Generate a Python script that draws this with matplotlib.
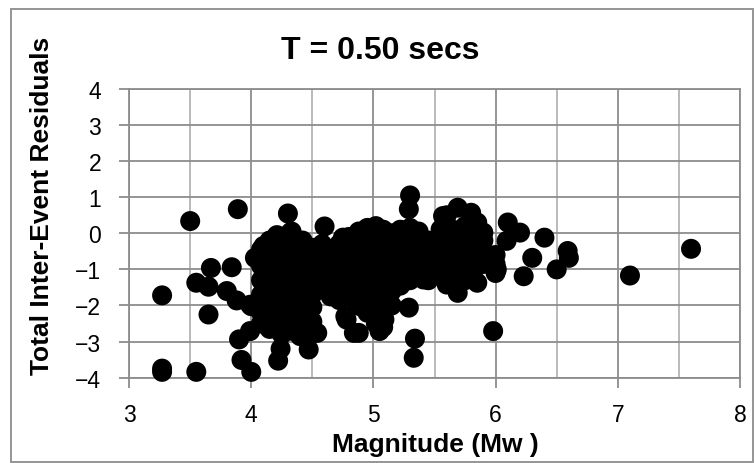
import matplotlib
matplotlib.use("Agg")
import matplotlib.pyplot as plt
from matplotlib.patches import Rectangle
from matplotlib.ticker import MultipleLocator

plt.rcParams['font.family'] = ['Liberation Sans', 'DejaVu Sans']

# event magnitude (Mw) and total inter-event residual, T = 0.50 s
mag = [
    3.27, 3.27, 3.27, 3.50, 3.55, 3.55, 3.65, 3.65, 3.67, 3.80, 3.84, 3.88,
    3.89, 3.90, 3.92, 4.00, 3.99, 3.99, 4.00, 4.03, 4.10, 4.13, 4.17, 4.21,
    4.22, 4.24, 4.30, 4.32, 4.40, 4.47, 4.48, 4.51, 4.54, 4.60, 4.67, 4.67,
    4.75, 4.77, 4.78, 4.84, 4.86, 4.88, 4.89, 5.05, 5.09, 5.29, 5.30, 5.29,
    5.33, 5.34, 5.41, 5.55, 5.57, 5.60, 5.69, 5.69, 5.80, 5.85, 5.90, 5.98,
    6.01, 6.09, 6.10, 6.20, 6.23, 6.30, 6.40, 6.50, 6.59, 6.60, 7.10, 7.60,
    # dense cluster
    4.08, 4.08, 4.08, 4.08, 4.08, 4.08,
    4.15, 4.15, 4.15, 4.15, 4.15, 4.15, 4.15,
    4.25, 4.25, 4.25, 4.25, 4.25, 4.25, 4.25, 4.25,
    4.33, 4.33, 4.33, 4.33, 4.33, 4.33, 4.33, 4.33,
    4.42, 4.42, 4.42, 4.42, 4.42, 4.42, 4.42,
    4.50, 4.50, 4.50, 4.50, 4.50, 4.50,
    4.58, 4.58, 4.58, 4.58,
    4.65, 4.65, 4.65, 4.65,
    4.72, 4.72, 4.72, 4.72, 4.72,
    4.80, 4.80, 4.80, 4.80, 4.80,
    4.88, 4.88, 4.88, 4.88, 4.88, 4.88,
    4.95, 4.95, 4.95, 4.95, 4.95, 4.95, 4.95,
    5.02, 5.02, 5.02, 5.02, 5.02, 5.02, 5.02, 5.02,
    5.08, 5.08, 5.08, 5.08, 5.08, 5.08, 5.08, 5.08,
    5.15, 5.15, 5.15, 5.15, 5.15, 5.15,
    5.22, 5.22, 5.22, 5.22, 5.22,
    5.30, 5.30, 5.30, 5.30, 5.30,
    5.37, 5.37, 5.37, 5.37,
    5.45, 5.45, 5.45, 5.45,
    5.52, 5.52, 5.52,
    5.60, 5.60, 5.60, 5.60, 5.60,
    5.68, 5.68, 5.68, 5.68, 5.68,
    5.75, 5.75, 5.75, 5.75, 5.75,
    5.82, 5.82, 5.82, 5.82, 5.82,
    5.90, 5.90, 5.90,
    6.00, 6.00, 6.00,
    5.60, 5.65, 5.75, 5.85,
]
resid = [
    -1.72, -3.75, -3.84, 0.34, -3.84, -1.37, -1.48, -2.25, -0.96, -1.60, -0.94, -1.86,
    0.67, -2.94, -3.51, -3.84, -2.71, -1.98, -2.02, -0.68, -0.35, -1.56, -2.57, -0.05,
    -3.53, -3.20, 0.55, 0.02, -2.85, -3.22, -2.02, -2.71, -2.76, 0.19, -1.70, -1.65,
    -0.12, -2.30, -2.39, -2.76, -1.93, -2.76, -2.02, -2.71, -2.39, -2.06, 1.05, 0.67,
    -3.45, -2.92, -1.28, 0.11, 0.48, -1.42, 0.71, -1.65, 0.57, -1.37, 0.02, -2.71,
    -1.00, -0.21, 0.30, 0.02, -1.19, -0.68, -0.12, -1.00, -0.49, -0.68, -1.17, -0.43,
    # dense cluster
    -0.45, -0.90, -1.30, -1.70, -2.20, -2.50,
    -0.20, -0.60, -1.00, -1.45, -1.85, -2.30, -2.65,
    -0.10, -0.50, -0.95, -1.35, -1.75, -2.15, -2.45, -2.80,
    0.05, -0.35, -0.80, -1.20, -1.60, -2.00, -2.40, -2.70,
    -0.20, -0.60, -1.00, -1.45, -1.90, -2.30, -2.60,
    -0.40, -0.85, -1.30, -1.70, -2.05, -2.45,
    -0.30, -0.70, -1.10, -1.50,
    -0.50, -0.90, -1.30, -1.75,
    -0.30, -0.75, -1.10, -1.45, -1.85,
    -0.10, -0.50, -0.90, -1.30, -1.60,
    0.05, -0.35, -0.75, -1.10, -1.50, -1.95,
    0.15, -0.20, -0.60, -1.00, -1.40, -1.80, -2.20,
    0.20, -0.15, -0.50, -0.90, -1.30, -1.70, -2.10, -2.50,
    0.10, -0.30, -0.70, -1.10, -1.50, -1.90, -2.30, -2.60,
    0.00, -0.40, -0.80, -1.20, -1.60, -2.00,
    0.10, -0.25, -0.65, -1.05, -1.45,
    0.15, -0.20, -0.55, -0.95, -1.30,
    0.05, -0.35, -0.75, -1.10,
    -0.20, -0.60, -1.00, -1.30,
    -0.40, -0.80, -1.10,
    0.10, -0.20, -0.55, -0.95, -1.30,
    -0.05, -0.40, -0.80, -1.15, -1.50,
    0.20, -0.25, -0.65, -1.00, -1.30,
    0.30, -0.10, -0.50, -0.90, -1.25,
    -0.20, -0.55, -0.85,
    -0.60, -0.85, -1.10,
    0.50, 0.10, 0.10, 0.30,
]

fig = plt.figure(figsize=(7.55, 4.64), dpi=100)
ax = fig.add_axes([0.171, 0.184, 0.809, 0.622])

ax.scatter(mag, resid, s=207, color='black', edgecolors='none', zorder=3, clip_on=False)

ax.set_xlim(3, 8)
ax.set_ylim(-4, 4)
ax.xaxis.set_major_locator(MultipleLocator(1))
ax.xaxis.set_minor_locator(MultipleLocator(0.5))
ax.yaxis.set_major_locator(MultipleLocator(1))

ax.grid(True, which='major', color='#8c8c8c', linewidth=1.3, zorder=0)
ax.grid(True, which='minor', axis='x', color='#b4b4b4', linewidth=1.3, zorder=0)
ax.set_axisbelow(True)

for sp in ax.spines.values():
    sp.set_color('#8c8c8c')
    sp.set_linewidth(1.3)

ax.tick_params(axis='both', which='major', direction='out', length=7, width=1.3,
               color='#8c8c8c', labelsize=16.5)
ax.tick_params(axis='x', which='minor', length=0)
ax.tick_params(axis='x', which='major', pad=11)
ax.tick_params(axis='y', which='major', pad=13)

# axis titles and chart title placed in figure coordinates
fig.text(0.576, 0.041, 'Magnitude (Mw )', ha='center', va='center',
         fontsize=19, fontweight='bold')
fig.text(0.055, 0.557, 'Total Inter-Event Residuals', ha='center', va='center',
         rotation=90, fontsize=19, fontweight='bold')
fig.text(0.503, 0.89, 'T = 0.50 secs', ha='center', va='center', fontsize=23, fontweight='bold')

# outer chart frame
fig.patches.append(Rectangle((0.0146, 0.002), 0.983, 0.976, transform=fig.transFigure,
                             fill=False, edgecolor='#8c8c8c', linewidth=1.3))

fig.savefig('out.png', dpi=100)
